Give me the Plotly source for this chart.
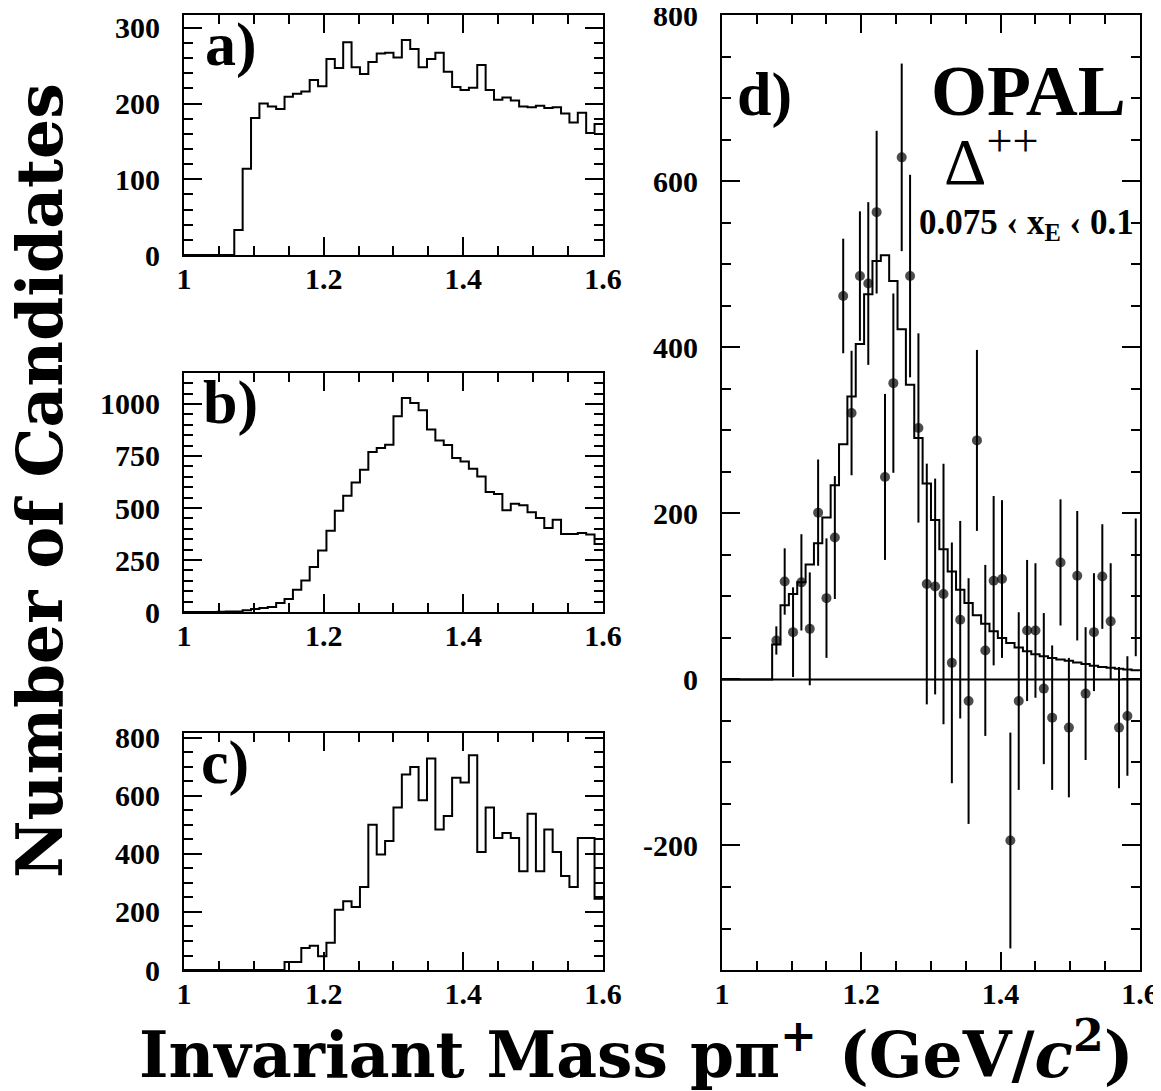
import numpy as np
import plotly.graph_objects as go

# common binning: 50 bins of 0.012 GeV between 1.0 and 1.6
n_bins = 50
m_lo, m_hi = 1.0, 1.6

# a) histogram
hist_a = [0, 0, 0, 0, 0, 0,
          33, 114, 181, 200, 196, 193, 209, 213, 216, 231,
          223, 259, 247, 281, 248, 239, 255, 266, 267, 261,
          284, 272, 248, 259, 267, 242, 222, 218, 221, 251,
          218, 205, 208, 204, 196, 195, 197, 194, 195, 187,
          175, 188, 161, 173]

# b) histogram
hist_b = [0, 0, 0, 0, 1, 2,
          3, 8, 14, 19, 24, 43, 62, 107, 152, 216,
          296, 391, 487, 559, 623, 684, 769, 788, 804, 941,
          1029, 1005, 970, 877, 824, 803, 740, 724, 689, 652,
          577, 567, 489, 521, 513, 479, 452, 404, 444, 375,
          375, 380, 372, 327]

# c) histogram
hist_c = [0, 0, 0, 0, 0, 0, 0, 0, 0, 0, 0, 0,
          28, 28, 76, 84, 47, 94, 208, 237, 217, 286,
          501, 398, 445, 560, 674, 700, 585, 729, 484, 531,
          663, 646, 740, 407, 560, 455, 472, 455, 340, 539,
          340, 484, 407, 324, 286, 455, 455, 246]

# d) expected shape (histogram)
hist_d = [0, 0, 0, 0, 0, 0,
          42, 89.5, 103, 117, 138.5, 164, 195, 234, 283.5, 341,
          404, 464, 504, 511, 480, 422, 355, 291, 236, 192,
          157, 130, 108, 92, 77.5, 67, 58, 50, 44, 38.6,
          34, 30.5, 28, 26, 24, 22.5, 20.5, 18.5, 16.5, 15,
          14, 13, 12, 11]

# d) background-subtracted data, bins 6..49
d_first_bin = 6
d_vals = [47, 118, 57, 117, 61, 201, 98, 171, 462, 321,
          486, 477, 563, 244, 357, 629, 486, 303, 115, 112,
          103, 20, 72, -26, 288, 35, 119, 121, -194, -26,
          59, 59, -11, -46, 141, -58, 125, -17, 57, 124,
          70, -58, -44, 111]
d_errs = [17, 40, 54, 58, 68, 64, 72, 74, 69, 75,
          78, 98, 98, 100, 108, 113, 122, 114, 145, 130,
          157, 145, 119, 148, 109, 103, 102, 95, 130, 107,
          85, 81, 91, 87, 76, 84, 78, 80, 71, 63,
          70, 73, 72, 83]

# d) y tick labels (plain hyphen for the minus sign)
d_ticks = [-200, 0, 200, 400, 600, 800]
d_ticktext = ["-200", "0", "200", "400", "600", "800"]

edges = np.linspace(m_lo, m_hi, n_bins + 1)
centers = 0.5 * (edges[:-1] + edges[1:])

# the page body keeps its 8px margin, so the figure is laid out 8px in
OFF = 8
W, H = 1161 - OFF, 1091 - OFF
black = "black"
tick_font = dict(family="Liberation Serif", size=30, color=black, weight="bold")


def step(vals):
    # outline of a histogram: value held from each left edge to the next
    return list(edges), list(vals) + [vals[-1]]


def px(x):
    return (x - OFF) / W


def py(y):
    return 1 - (y - OFF) / H


def axis(dom, rng, dtick, minor_dtick, tick0=0.0, standoff=16):
    return dict(domain=dom, range=rng, tick0=tick0, dtick=dtick,
                ticks="inside", ticklen=18, tickwidth=1.5, tickcolor=black,
                minor=dict(tick0=tick0, dtick=minor_dtick, ticks="inside",
                           ticklen=9, tickwidth=1.5, tickcolor=black),
                showline=True, linecolor=black, linewidth=2, mirror="allticks",
                showgrid=False, zeroline=False, tickfont=tick_font,
                ticklabelstandoff=standoff, ticklabeloverflow="allow",
                automargin=False, fixedrange=True)


def xaxis(left, right, anchor):
    return axis([px(left), px(right)], [m_lo, m_hi + 1e-4], 0.2, 0.05, 1.0, -4) | dict(anchor=anchor)


def yaxis(top, bottom, rng, dtick, minor_dtick, anchor):
    return axis([py(bottom), py(top)], rng, dtick, minor_dtick) | dict(anchor=anchor)


fig = go.Figure()

for vals, xa, ya in [(hist_a, "x", "y"), (hist_b, "x2", "y2"), (hist_c, "x3", "y3"),
                     (hist_d, "x4", "y4")]:
    sx, sy = step(vals)
    fig.add_trace(go.Scatter(x=sx, y=sy, mode="lines", line_shape="hv",
                             line=dict(color=black, width=2),
                             xaxis=xa, yaxis=ya, showlegend=False))

d_x = centers[d_first_bin:d_first_bin + len(d_vals)]
# last point sits under the frame: only its error bar shows
d_size = [10] * (len(d_vals) - 1) + [0]
fig.add_trace(go.Scatter(x=d_x, y=d_vals, mode="markers",
                         marker=dict(color=black, size=d_size, symbol="circle",
                                     line=dict(width=0)),
                         error_y=dict(type="data", array=d_errs, width=0,
                                      thickness=2, color=black),
                         xaxis="x4", yaxis="y4", showlegend=False))

fig.add_shape(type="line", xref="x4 domain", yref="y4", x0=0, x1=1, y0=0, y1=0,
              line=dict(color=black, width=2))

fig.update_layout(
    width=W, height=H, margin=dict(l=0, r=0, t=0, b=0),
    paper_bgcolor="white", plot_bgcolor="white",
    font=dict(family="Liberation Serif", color=black),
    xaxis=xaxis(184, 603, "y"),
    yaxis=yaxis(15, 255, [0, 317], 100, 20, "x"),
    xaxis2=xaxis(184, 603, "y2"),
    yaxis2=yaxis(373, 612, [0, 1149], 250, 50, "x2"),
    xaxis3=xaxis(184, 603, "y3"),
    yaxis3=yaxis(733, 970, [0, 817], 200, 50, "x3"),
    xaxis4=xaxis(722, 1140, "y4"),
    yaxis4=yaxis(15, 970, [-350, 800.5], 200, 50, "x4")
    | dict(tickmode="array", tickvals=d_ticks, ticktext=d_ticktext),
)

panel_font = dict(family="Liberation Serif", size=62, color=black, weight="bold")
for label, xa, ya, lx, ly in [("a)", "x", "y", 0.045, 1.03), ("b)", "x2", "y2", 0.04, 1.03),
                              ("c)", "x3", "y3", 0.035, 1.03), ("d)", "x4", "y4", 0.03, 0.955)]:
    fig.add_annotation(text=label, xref=xa + " domain", yref=ya + " domain",
                       x=lx, y=ly, xanchor="left", yanchor="top",
                       showarrow=False, font=panel_font)

fig.add_annotation(text="OPAL", xref="paper", yref="paper",
                   x=px(1028), y=py(91), xanchor="center", yanchor="middle",
                   showarrow=False,
                   font=dict(family="Liberation Serif", size=72, color=black, weight="bold"))
fig.add_annotation(text="Δ<sup>++</sup>", xref="paper", yref="paper",
                   x=px(942), y=py(156), xanchor="left", yanchor="middle",
                   showarrow=False, font=dict(family="Liberation Serif", size=66, color=black))
fig.add_annotation(text="0.075 ‹ x<sub>E</sub> ‹ 0.1", xref="paper", yref="paper",
                   x=px(1026), y=py(225), xanchor="center", yanchor="middle",
                   showarrow=False,
                   font=dict(family="Liberation Serif", size=35, color=black, weight="bold"))

title_font = dict(family="DejaVu Serif", size=63, color=black, weight="bold")
fig.add_annotation(text="Invariant Mass pπ<sup>+</sup> (GeV/<i>c</i><sup>2</sup>)",
                   xref="paper", yref="paper", x=px(636), y=py(1051),
                   xanchor="center", yanchor="middle", showarrow=False, font=title_font)
fig.add_annotation(text="Number of Candidates", textangle=-90,
                   xref="paper", yref="paper", x=px(40), y=py(481),
                   xanchor="center", yanchor="middle", showarrow=False, font=title_font)

fig.write_html("out.html")
